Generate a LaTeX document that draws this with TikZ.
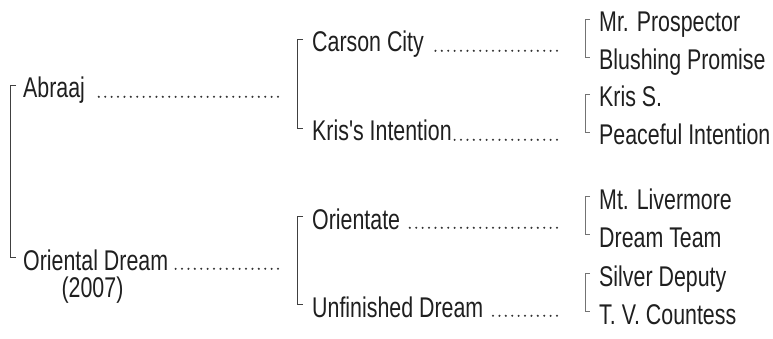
\documentclass[tikz,border=0pt]{standalone}
\usepackage{fontspec}
\setmainfont{Liberation Sans}[FakeStretch=0.75,Ligatures=TeXOff]
\usetikzlibrary{calc}
\begin{document}
\begin{tikzpicture}[x=1pt,y=-1pt]
\tikzset{
 lab/.style={anchor=base west, inner sep=0pt, font=\fontsize{28.5}{31}\selectfont, text=black!88},
 br/.style={draw=black!75, line width=0.9pt},
 brlight/.style={draw=black!55, line width=0.9pt},
 leader/.style={draw=black!80, line width=2.3pt, line cap=round, dash pattern=on 0pt off 6.4pt},
}
\useasboundingbox (0,0) rectangle (773,339);
% generation 3
\node[lab] (mrp) at (599,32) {Mr. Prospector};
\node[lab] (blp) at (599,70) {Blushing Promise};
\node[lab] (krs) at (599,107) {Kris S.};
\node[lab] (pin) at (599,145) {Peaceful Intention};
\node[lab] (mtl) at (599,209) {Mt. Livermore};
\node[lab] (drt) at (599,247) {Dream Team};
\node[lab] (svd) at (599,286) {Silver Deputy};
\node[lab] (tvc) at (599,324) {T. V. Countess};
% generation 2
\node[lab] (cc) at (312,52) {Carson City};
\node[lab] (ki) at (312,141) {Kris's Intention};
\node[lab] (ori) at (312,229) {Orientate};
\node[lab] (ufd) at (312,317) {Unfinished Dream};
% generation 1
\node[lab] (abr) at (23,98) {Abraaj};
\node[lab] (ord) at (23,270) {Oriental Dream};
\node[lab, anchor=base] (yr) at (92.5,297.5) {(2007)};
% brackets
\foreach \a/\b in {mrp/blp, krs/pin, mtl/drt, svd/tvc}{
  \draw[brlight] ([shift={(-9pt,13pt)}]\a.base west) -- ++(-5pt,0) |- ([shift={(-9pt,13pt)}]\b.base west);
}
\foreach \a/\b in {cc/ki, ori/ufd}{
  \draw[br] ([shift={(-9pt,13pt)}]\a.base west) -- ++(-6pt,0) |- ([shift={(-9pt,13pt)}]\b.base west);
}
\draw[br] ([shift={(-7pt,13pt)}]abr.base west) -- ++(-5.5pt,0) |- ([shift={(-7pt,13pt)}]ord.base west);
% leaders
\coordinate (abrE) at (278,96.8);
\coordinate (ordE) at (278,268.8);
\coordinate (ccE) at (557,50.8);
\coordinate (kiE) at (557,139.8);
\coordinate (oriE) at (557,227.8);
\coordinate (ufdE) at (557,315.8);
\draw[leader] (abrE) -- ([shift={(8pt,1.2pt)}]abr.base east);
\draw[leader] (ordE) -- ([shift={(3pt,1.2pt)}]ord.base east);
\draw[leader] (ccE) -- ([shift={(8pt,1.2pt)}]cc.base east);
\draw[leader] (kiE) -- ([shift={(2pt,1.2pt)}]ki.base east);
\draw[leader] (oriE) -- ([shift={(9pt,1.2pt)}]ori.base east);
\draw[leader] (ufdE) -- ([shift={(9pt,1.2pt)}]ufd.base east);
\end{tikzpicture}
\end{document}
